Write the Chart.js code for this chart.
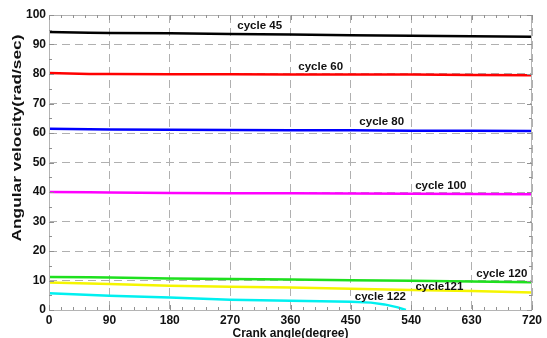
<!DOCTYPE html>
<html>
<head>
<meta charset="utf-8">
<script src="https://cdn.jsdelivr.net/npm/chart.js@4.4.1/dist/chart.umd.min.js"></script>
<style>
  html, body { margin: 0; padding: 0; background: #fff; }
  #wrap { width: 547px; height: 338px; }
</style>
</head>
<body>
<div id="wrap"><canvas id="myChart" width="547" height="338"></canvas></div>
<script>
// crank angle samples (degree)
const angles = [0, 60, 90, 180, 270, 360, 450, 540, 630, 720];

// angular velocity (rad/sec) per cycle
const cycle45 = [94.2, 94.0, 93.9, 93.8, 93.6, 93.4, 93.1, 93.0, 92.8, 92.6];
const cycle60 = [80.3, 80.0, 80.0, 79.9, 79.9, 79.8, 79.8, 79.8, 79.7, 79.6];
const cycle80 = [61.4, 61.3, 61.2, 61.1, 61.0, 60.9, 60.9, 60.8, 60.8, 60.7];
const cycle100 = [40.0, 39.9, 39.8, 39.7, 39.6, 39.6, 39.5, 39.4, 39.3, 39.2];
const cycle120 = [11.2, 11.1, 11.0, 10.7, 10.5, 10.3, 10.1, 9.9, 9.7, 9.4];
const cycle121 = [9.3, 9.0, 8.8, 8.2, 7.9, 7.6, 7.2, 6.8, 6.4, 5.9];

// cycle 122 stops before the end of the revolution
const angles122 = [0, 90, 180, 270, 360, 450, 480, 500, 520, 532];
const cycle122 = [5.7, 4.8, 4.2, 3.5, 3.1, 2.8, 2.5, 1.9, 0.9, 0.0];

const seriesNames = ["cycle 45", "cycle 60", "cycle 80", "cycle 100", "cycle 120", "cycle121", "cycle 122"];
const seriesColors = ["#000000", "#ff0000", "#0000ff", "#ff00ff", "#1ee01e", "#f5f500", "#00f0f0"];

// where each cycle name is written (data coordinates)
const labelAngle = [314, 405, 496, 584, 675, 582, 494];
const labelValue = [96.3, 82.5, 63.7, 42.1, 12.2, 7.9, 4.4];

const xTicks = [0, 90, 180, 270, 360, 450, 540, 630, 720];
const yTicks = [0, 10, 20, 30, 40, 50, 60, 70, 80, 90, 100];

const xTitle = 'Crank angle(degree)';
const yTitle = 'Angular velocity(rad/sec)';

const toPoints = (xs, ys) => xs.map((x, i) => ({x: x, y: ys[i]}));
const allSeries = [
    toPoints(angles, cycle45),
    toPoints(angles, cycle60),
    toPoints(angles, cycle80),
    toPoints(angles, cycle100),
    toPoints(angles, cycle120),
    toPoints(angles, cycle121),
    toPoints(angles122, cycle122)
];

const datasets = allSeries.map((pts, i) => ({
    label: seriesNames[i],
    data: pts,
    borderColor: seriesColors[i],
    borderWidth: 2.5,
    pointRadius: 0,
    tension: 0,
    fill: false
}));

const FONT = "'Liberation Sans', Arial, sans-serif";

// box, inward ticks, cycle labels, axis titles
const decorations = {
    id: 'decorations',
    afterDatasetsDraw(chart) {
        const ctx = chart.ctx;
        const a = chart.chartArea;
        const xs = chart.scales.x, ys = chart.scales.y;
        ctx.save();
        ctx.strokeStyle = '#b4b4b4';
        ctx.lineWidth = 1;
        ctx.strokeRect(a.left + 0.5, a.top + 0.5, a.right - a.left - 1, a.bottom - a.top);
        ctx.strokeStyle = '#909090';
        ctx.beginPath();
        for (let v = 0; v <= 720; v += 18) {
            const px = Math.round(xs.getPixelForValue(v)) + 0.5;
            const len = v % 90 === 0 ? 5 : 3;
            ctx.moveTo(px, a.bottom); ctx.lineTo(px, a.bottom - len);
            ctx.moveTo(px, a.top); ctx.lineTo(px, a.top + len);
        }
        for (let v = 0; v <= 100; v += 5) {
            const py = Math.round(ys.getPixelForValue(v)) + 0.5;
            const len = v % 10 === 0 ? 5 : 3;
            ctx.moveTo(a.left, py); ctx.lineTo(a.left + len, py);
            ctx.moveTo(a.right, py); ctx.lineTo(a.right - len, py);
        }
        ctx.stroke();

        ctx.fillStyle = '#111';
        ctx.font = 'bold 11.5px ' + FONT;
        ctx.textAlign = 'center';
        ctx.textBaseline = 'middle';
        seriesNames.forEach((name, i) => {
            ctx.fillText(name, xs.getPixelForValue(labelAngle[i]), ys.getPixelForValue(labelValue[i]));
        });

        ctx.font = 'bold 12px ' + FONT;
        ctx.fillText(xTitle, (a.left + a.right) / 2, 334);

        // y title is drawn taller than wide, as in the source picture
        ctx.font = 'bold 13.5px ' + FONT;
        const w = ctx.measureText(yTitle).width;
        ctx.translate(17, 138);
        ctx.rotate(-Math.PI / 2);
        ctx.scale(207 / w, 1);
        ctx.fillText(yTitle, 0, 0);
        ctx.restore();
    }
};

const ctxEL = document.getElementById('myChart').getContext('2d');
new Chart(ctxEL, {
    type: 'line',
    data: {datasets: datasets},
    options: {
        responsive: false,
        animation: false,
        layout: {padding: {top: 15, right: 15, left: 0, bottom: 0}},
        plugins: {legend: {display: false}, tooltip: {enabled: false}},
        scales: {
            x: {
                type: 'linear',
                min: 0,
                max: 720,
                afterFit: s => { s.height = 28; },
                afterBuildTicks: s => { s.ticks = xTicks.map(v => ({value: v})); },
                ticks: {
                    color: '#111',
                    padding: 3,
                    maxRotation: 0,
                    font: {family: FONT, size: 12, weight: 'bold'}
                },
                grid: {color: '#b0b0b0', lineWidth: 1, drawTicks: false},
                border: {display: false, dash: [8, 5]}
            },
            y: {
                min: 0,
                max: 100,
                afterFit: s => { s.width = 49; },
                afterBuildTicks: s => { s.ticks = yTicks.map(v => ({value: v})); },
                ticks: {
                    color: '#111',
                    padding: 3,
                    font: {family: FONT, size: 12, weight: 'bold'}
                },
                grid: {color: '#b0b0b0', lineWidth: 1, drawTicks: false},
                border: {display: false, dash: [8, 5]}
            }
        }
    },
    plugins: [decorations]
});
</script>
</body>
</html>
